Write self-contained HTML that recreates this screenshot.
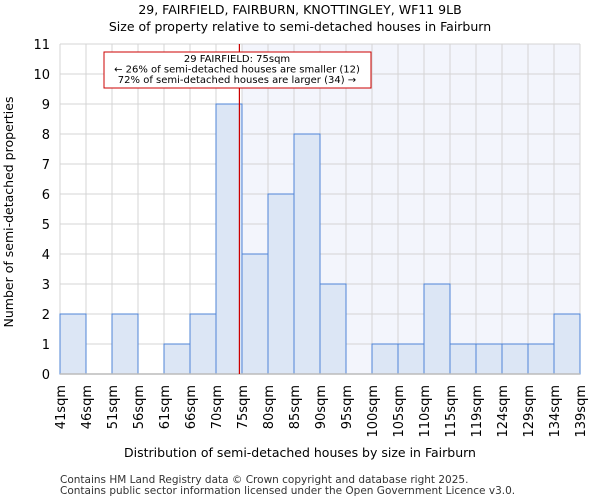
<!DOCTYPE html>
<html><head><meta charset="utf-8"><style>
body{margin:0;background:#fff;font-family:"DejaVu Sans","Liberation Sans",sans-serif}
svg text{font-family:"DejaVu Sans","Liberation Sans",sans-serif}
</style></head><body>
<svg id="c" width="600" height="500" xmlns="http://www.w3.org/2000/svg">
<text x="300" y="14" text-anchor="middle" font-size="12.5">29, FAIRFIELD, FAIRBURN, KNOTTINGLEY, WF11 9LB</text>
<text x="300" y="31" text-anchor="middle" font-size="12.5">Size of property relative to semi-detached houses in Fairburn</text>
<g id="plot"></g>
<text x="300" y="457" text-anchor="middle" font-size="12.5">Distribution of semi-detached houses by size in Fairburn</text>
<text transform="translate(13,212) rotate(-90)" text-anchor="middle" font-size="12.5">Number of semi-detached properties</text>
<text x="60" y="483" font-size="10.5" fill="#333">Contains HM Land Registry data © Crown copyright and database right 2025.</text>
<text x="60" y="494" font-size="10.5" fill="#333">Contains public sector information licensed under the Open Government Licence v3.0.</text>
</svg>
<script>
const binLabels=["41sqm","46sqm","51sqm","56sqm","61sqm","66sqm","70sqm","75sqm","80sqm","85sqm","90sqm","95sqm","100sqm","105sqm","110sqm","115sqm","119sqm","124sqm","129sqm","134sqm","139sqm"];
const counts=[2,0,2,0,1,2,9,4,6,8,3,0,1,1,3,1,1,1,1,2];
const yTicks=[0,1,2,3,4,5,6,7,8,9,10,11];
const propertyBin=6.9;
const NS="http://www.w3.org/2000/svg";
const g=document.getElementById('plot');
const L=60,R=580,T=44,B=374,yMax=11;
const bw=(R-L)/counts.length;
const xS=i=>L+i*bw;
const yS=v=>B-(v/yMax)*(B-T);
function mk(t,a){const e=document.createElementNS(NS,t);for(const k in a)e.setAttribute(k,a[k]);g.appendChild(e);return e;}
const shadeX=xS(Math.ceil(propertyBin));
let e=mk('rect',{x:shadeX,y:T,width:R-shadeX,height:B-T,fill:'#f3f5fc'});


yTicks.forEach(v=>{
 let l=mk('line',{x1:L,x2:R,y1:yS(v),y2:yS(v),stroke:'#d4d4d4','stroke-width':1});
 
 
 let t=mk('text',{x:L-10,y:yS(v)+5,'text-anchor':'end','font-size':13});
 t.textContent=v;
 
 
});
binLabels.forEach((s,i)=>{
 let l=mk('line',{x1:xS(i),x2:xS(i),y1:T,y2:B,stroke:'#d4d4d4','stroke-width':1});
 
 
 let t=mk('text',{transform:`translate(${xS(i)+5},385) rotate(-90)`,'text-anchor':'end','font-size':13});
 t.textContent=s;
 
 
});
counts.forEach((c,i)=>{
 if(c<=0)return;
 let r=mk('rect',{x:xS(i),y:yS(c),width:bw,height:B-yS(c),fill:'#dce6f5',stroke:'#4f84d6','stroke-width':1});
 
 
});
let ax=mk('line',{x1:L,x2:R,y1:B,y2:B,stroke:'#bbb','stroke-width':1.5});


const px=xS(propertyBin);
let pl=mk('line',{x1:px,x2:px,y1:T,y2:B,stroke:'#c00','stroke-width':1.2});


let box=mk('rect',{x:104,y:52,width:267,height:36,fill:'#fff',stroke:'#c00','stroke-width':1});


["29 FAIRFIELD: 75sqm","← 26% of semi-detached houses are smaller (12)","72% of semi-detached houses are larger (34) →"].forEach((s,i)=>{
 let t=mk('text',{x:237,y:62+i*10.5,'text-anchor':'middle','font-size':10});
 t.textContent=s;
 
 
});
</script>
</body></html>
